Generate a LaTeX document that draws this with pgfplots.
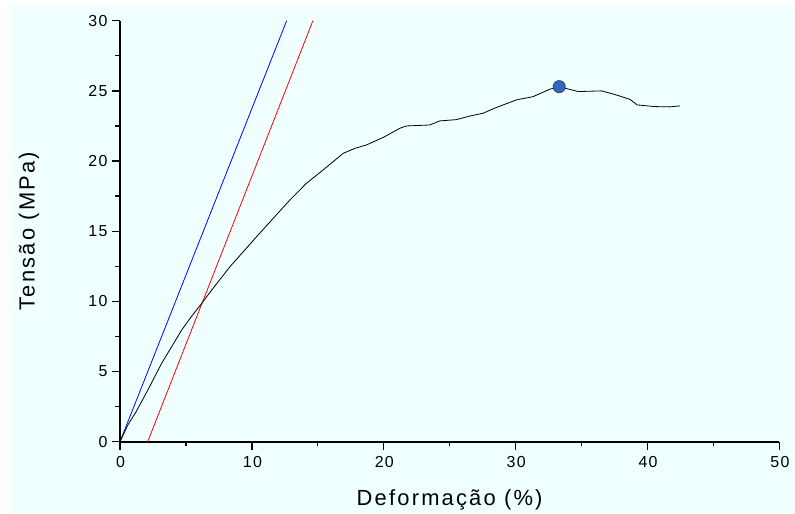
\documentclass[border=0pt]{standalone}
\usepackage{pgfplots}
\pgfplotsset{compat=1.18}
\usepackage{fontspec}
\setmainfont{Liberation Sans}
\newfontfamily\spaced[LetterSpace=10]{Liberation Sans}
\newfontfamily\tspaced[LetterSpace=8]{Liberation Sans}
\definecolor{bgc}{RGB}{240,255,255}
\definecolor{mk}{RGB}{58,100,180}
\definecolor{mkd}{RGB}{40,80,150}
\begin{document}
\begin{tikzpicture}
\fill[white] (-120bp,-71.3bp) rectangle (675bp,441.7bp);
\fill[bgc] (-110.5bp,-71.3bp) rectangle (675bp,435.5bp);
\begin{axis}[
  at={(0,0)}, anchor=origin,
  scale only axis, width=659.3bp, height=421bp,
  xmin=0, xmax=50, ymin=0, ymax=30,
  axis x line*=bottom, axis y line*=left,
  axis line style={line width=1.6bp, -},
  xtick={0,10,...,50}, ytick={0,5,...,30},
  minor xtick={5,15,...,45}, minor ytick={2.5,7.5,...,27.5},
  tick align=outside,
  major tick length=8bp, minor tick length=4.5bp,
  every tick/.style={line width=1.4bp, black},
  /pgf/number format/assume math mode=true,
  tick label style={font=\tspaced\fontsize{16}{19}\selectfont},
  xticklabel style={yshift=-3bp, xshift=0.6bp},
  yticklabel style={xshift=-1bp},
  every axis x label/.style={at={(axis description cs:0.5,0)}, anchor=base, yshift=-63.5bp, font=\spaced\fontsize{22}{26}\selectfont},
  every axis y label/.style={at={(axis description cs:0,0.5)}, anchor=center, xshift=-91bp, rotate=90, font=\spaced\fontsize{22}{26}\selectfont},
  xlabel={Deformação (\%)},
  ylabel={Tensão (MPa)},
  clip=true,
]
\addplot[blue, line width=0.8bp] coordinates {(0,0) (12.64,30)};
\addplot[red, line width=0.8bp] coordinates {(2.1,0) (14.63,30)};
\addplot[black, line width=0.8bp] coordinates {
(0,0) (0.6,1.2) (1.2,2.1) (2.15,3.75) (3.16,5.59) (4.0,6.9) (4.68,7.96) (5.4,8.9) (6.07,9.7) (6.95,10.8)
(8.34,12.47) (10.36,14.61) (12.89,17.23) (14.15,18.42) (15.41,19.37) (16.93,20.55) (17.8,20.9) (18.7,21.15)
(20.0,21.7) (20.97,22.2) (21.23,22.34) (21.73,22.5) (23.5,22.57) (24.26,22.86) (25.5,22.95) (26.5,23.2)
(27.54,23.41) (28.5,23.8) (30.07,24.36) (31.33,24.59) (32.6,25.12) (33.31,25.30) (34.75,24.95) (36.52,25.0)
(37.5,24.75) (38.67,24.4) (39.22,24.0) (40.56,23.88) (41.7,23.86) (42.46,23.93)
};
\addplot[only marks, mark=*, mark size=6bp, mark options={fill=mk, draw=mkd, line width=1bp}] coordinates {(33.31,25.30)};
\end{axis}
\end{tikzpicture}
\end{document}
